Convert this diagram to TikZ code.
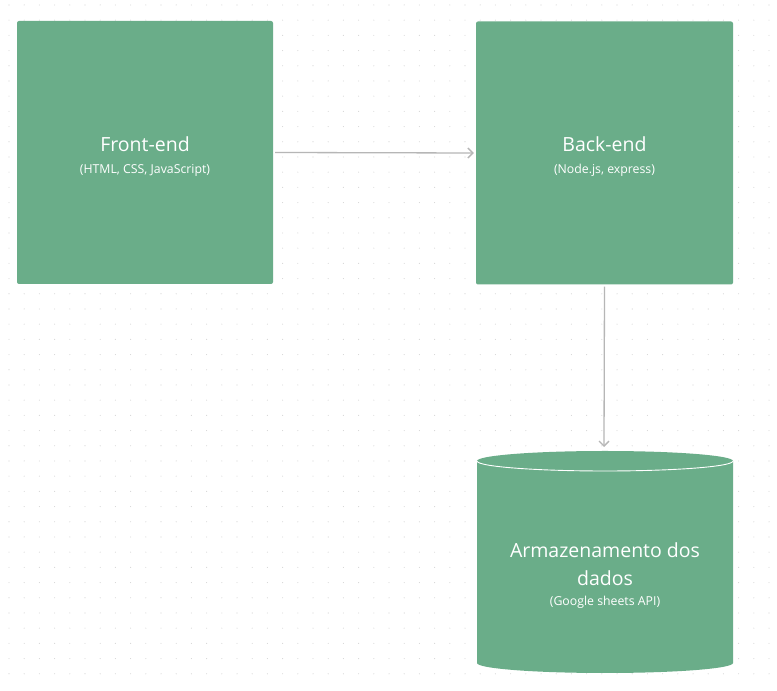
\documentclass[tikz,border=0pt]{standalone}
\usepackage{fontspec}
\setmainfont{Open Sans}
\usepackage{tikz}
\usetikzlibrary{arrows.meta, positioning, calc}

\definecolor{boxgreen}{RGB}{106,173,137}
\definecolor{linkgray}{RGB}{182,182,182}
\definecolor{dotgray}{RGB}{214,214,214}

\tikzset{
  block/.style={fill=boxgreen, rounded corners=2pt, minimum width=256pt, minimum height=263pt, inner sep=0pt},
  blocktext/.style={text=white, align=center, inner sep=0pt, font=\fontsize{19.5}{21}\selectfont},
  link/.style={draw=linkgray, line width=1.3pt, -{Straight Barb[length=5pt,width=10pt]}}
}
\newcommand{\subtxt}[1]{{\fontsize{12.3}{13}\selectfont #1}}

\begin{document}
\begin{tikzpicture}[x=1pt, y=1pt]
\useasboundingbox (0,0) rectangle (777,691);
\fill[white] (0,0) rectangle (777,691);
% dotted canvas
\foreach \i in {0,...,50} {
  \foreach \j in {0,...,44} {
    \fill[dotgray] (9+15.2*\i, 686-15.2*\j) circle (0.55pt);
  }
}

\node[block] (front) at (145,538.5) {};
\node[blocktext] (fronttxt) at ([yshift=-4pt]front.center) {Front-end\\[1pt]\subtxt{(HTML, CSS, JavaScript)}};
\node[block, minimum width=257pt] (back) at (604.5,538) {};
\node[blocktext] (backtxt) at ([yshift=-4pt]back.center) {Back-end\\[1pt]\subtxt{(Node.js, express)}};

% database cylinder
\fill[boxgreen] (477,230) -- (477,28) arc[start angle=180, end angle=360, x radius=128, y radius=10] -- (733,230) arc[start angle=0, end angle=180, x radius=128, y radius=10] -- cycle;
\draw[white, line width=0.9pt] (477,230) arc[start angle=180, end angle=360, x radius=128, y radius=10];
\coordinate (dbtop) at (604,244);
\node[text=white, align=center, font=\fontsize{19.5}{28}\selectfont] (db) at (605,115) {Armazenamento dos\\dados\\[-8pt]\subtxt{(Google sheets API)}};

\draw[link] ($(front.east)+(2,0)$) -- ($(back.west)+(-2,0)$);
\draw[link] ($(back.south)+(0,-2)$) -- (dbtop);
\end{tikzpicture}
\end{document}
